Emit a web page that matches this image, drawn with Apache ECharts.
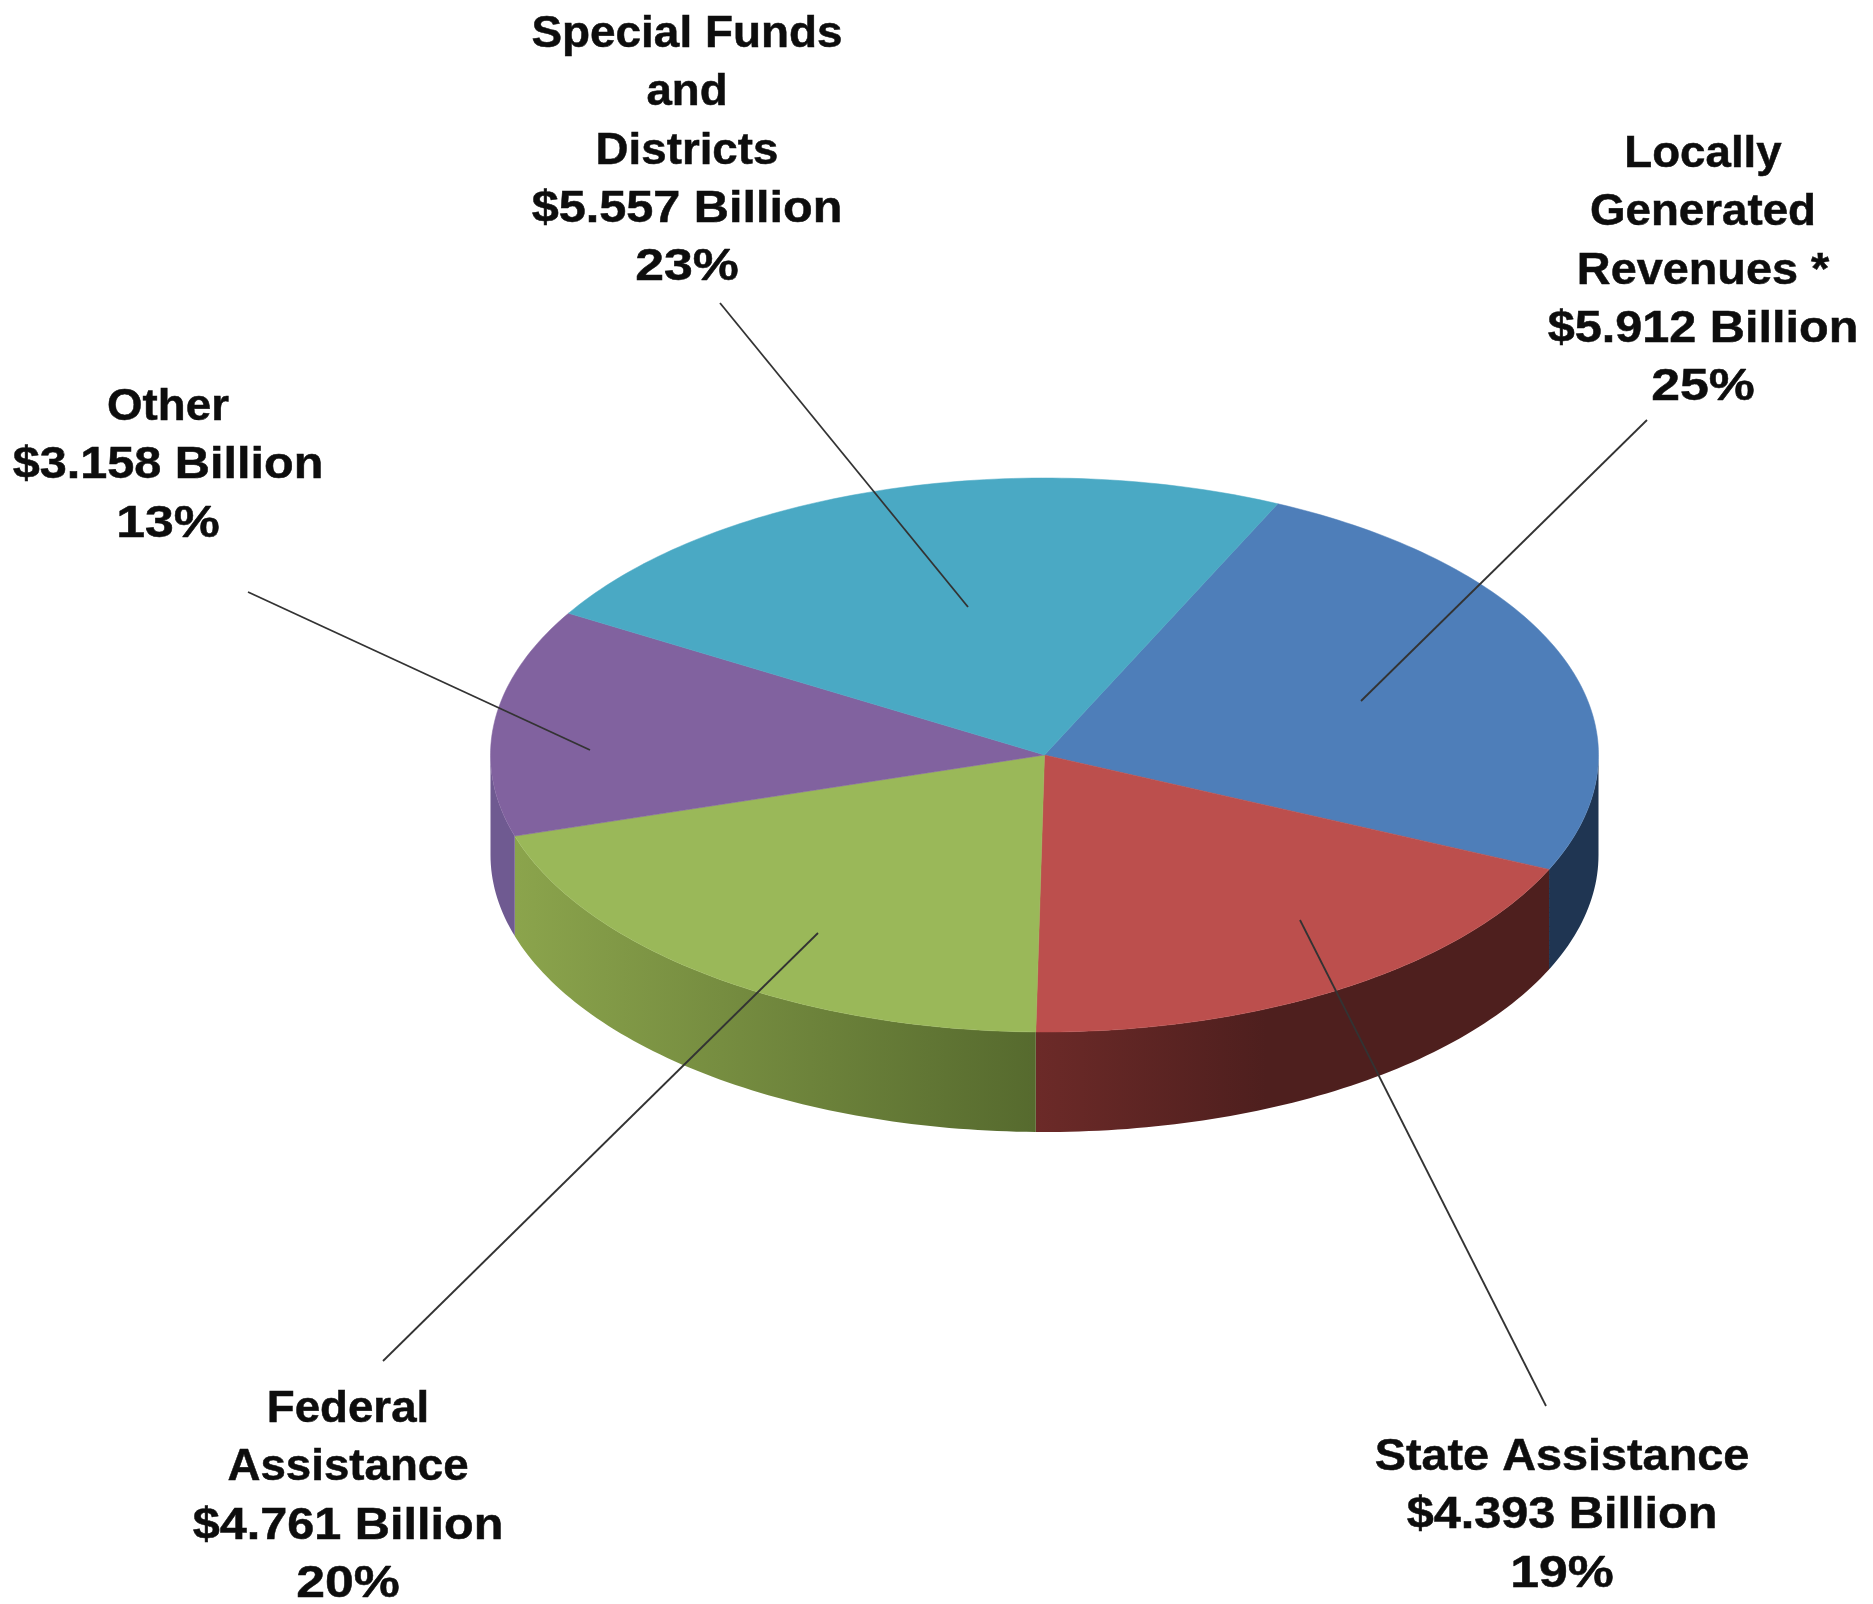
<!DOCTYPE html>
<html>
<head>
<meta charset="utf-8">
<style>html,body{margin:0;padding:0;background:#fff}#c{width:1873px;height:1604px}</style>
<script src="https://cdn.jsdelivr.net/npm/echarts@6/dist/echarts.min.js"></script>
</head>
<body>
<div id="c"></div>
<script>
const names = ['Locally\nGenerated\nRevenues *', 'State Assistance', 'Federal\nAssistance', 'Other', 'Special Funds\nand\nDistricts'];
const billions = [5.912, 4.393, 4.761, 3.158, 5.557];
const percents = [25, 19, 20, 13, 23];
const topColors = ['#4e7eb9', '#bc4f4d', '#9ab859', '#81629f', '#4aa9c4'];
const sideLeft = ['#1f3552', '#6c2a28', '#8ba44c', '#6f5a91', '#3a8296'];
const sideRight = ['#1f3552', '#4e1f1e', '#566a2e', '#6f5a91', '#3a8296'];
const sideSettle = [1, 0.45, 1, 1, 1];

const layout = {
  cx: 1044.5, cy: 755, rx: 554, ry: 277, depth: 100, firstAngle: 24.9,
  lineHeight: 58.3, fontSize: 45,
  labels: [[1703, 154.5], [1562, 1457.5], [348, 1409.5], [168, 407.5], [687, 34.5]],
  stretchName: 1.015, stretchSpaced: [1.04, 1.04, 1.04, 1.04, 1.02], stretchMoney: 1.08, stretchPercent: 1.15,
  leaders: [
    [[1647, 420], [1361, 701]],
    [[1546, 1406], [1300, 920]],
    [[383, 1361], [818, 933]],
    [[248, 592], [590, 750]],
    [[720, 303], [968, 607]]
  ]
};

const total = billions.reduce((a, b) => a + b, 0);
const starts = [];
billions.reduce((acc, v, i) => { starts[i] = acc; return acc + v / total * 360; }, layout.firstAngle);
const STEP = 1;
function rimPoint(deg) {
  const t = deg * Math.PI / 180;
  return [Math.sin(t), Math.cos(t)];
}
function arcAngles(a, b) {
  const out = [];
  for (let d = a; d < b; d += STEP) out.push(d);
  out.push(b);
  return out;
}

function renderSide(params, api) {
  const i = params.dataIndex;
  const a = starts[i], b = a + api.value(0) / total * 360;
  const from = Math.max(a, 90), to = Math.min(b, 270);
  if (from >= to) return null;
  const upper = arcAngles(from, to).map(d => api.coord(rimPoint(d)));
  const lower = upper.slice().reverse().map(p => [p[0], p[1] + layout.depth]);
  return {
    type: 'polygon',
    shape: { points: upper.concat(lower) },
    style: {
      fill: new echarts.graphic.LinearGradient(0, 0, 1, 0, [
        { offset: 0, color: sideLeft[i] },
        { offset: sideSettle[i], color: sideRight[i] },
        { offset: 1, color: sideRight[i] }
      ])
    }
  };
}
function renderTop(params, api) {
  const i = params.dataIndex;
  const a = starts[i], b = a + api.value(0) / total * 360;
  const pts = [api.coord([0, 0])].concat(arcAngles(a, b).map(d => api.coord(rimPoint(d))));
  return {
    type: 'polygon',
    shape: { points: pts },
    style: { fill: topColors[i], stroke: topColors[i], lineWidth: 0.5 }
  };
}

const sliceData = billions.map((v, i) => ({ value: [v], name: names[i].replace(/\n/g, ' ') }));

const graphicEls = [];
layout.leaders.forEach(l => graphicEls.push({
  type: 'line', z: 50, silent: true,
  shape: { x1: l[0][0], y1: l[0][1], x2: l[1][0], y2: l[1][1] },
  style: { stroke: '#333333', lineWidth: 1.8 }
}));
function addLine(text, x, y, stretch) {
  graphicEls.push({
    type: 'text', z: 60, silent: true, x: x, y: y, scaleX: stretch,
    style: {
      text: text, fill: '#0d0d0d', stroke: '#0d0d0d', lineWidth: 0.5,
      align: 'center', verticalAlign: 'middle',
      font: 'bold ' + layout.fontSize + 'px "Liberation Sans", Arial, sans-serif'
    }
  });
}
names.forEach((n, i) => {
  const x = layout.labels[i][0];
  let y = layout.labels[i][1];
  n.split('\n').forEach(part => {
    addLine(part, x, y, part.indexOf(' ') >= 0 ? layout.stretchSpaced[i] : layout.stretchName);
    y += layout.lineHeight;
  });
  addLine('$' + billions[i].toFixed(3) + ' Billion', x, y, layout.stretchMoney);
  y += layout.lineHeight;
  addLine(percents[i] + '%', x, y, layout.stretchPercent);
});

const chart = echarts.init(document.getElementById('c'), null, { renderer: 'canvas' });
chart.setOption({
  animation: false,
  backgroundColor: '#ffffff',
  grid: {
    left: layout.cx - layout.rx, top: layout.cy - layout.ry,
    width: layout.rx * 2, height: layout.ry * 2, show: false
  },
  xAxis: { type: 'value', min: -1, max: 1, show: false },
  yAxis: { type: 'value', min: -1, max: 1, show: false },
  series: [
    { type: 'custom', name: 'Walls', coordinateSystem: 'cartesian2d', clip: false, z: 2, renderItem: renderSide, data: sliceData, encode: { x: -1, y: -1 }, silent: true },
    { type: 'custom', name: 'Revenue', coordinateSystem: 'cartesian2d', clip: false, z: 3, renderItem: renderTop, data: sliceData, encode: { x: -1, y: -1 }, silent: true }
  ],
  graphic: { elements: graphicEls }
});
</script>
</body>
</html>
